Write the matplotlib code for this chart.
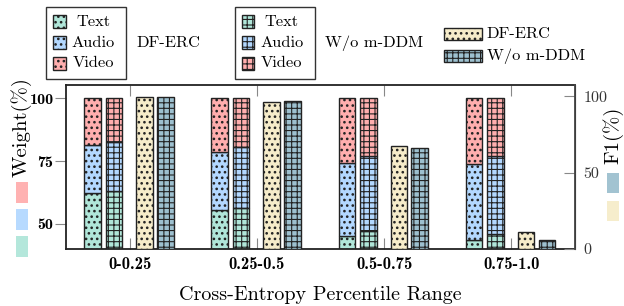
import matplotlib
matplotlib.use('Agg')
import matplotlib.pyplot as plt
from matplotlib.patches import Rectangle
import numpy as np

plt.rcParams['font.family'] = 'serif'
plt.rcParams['font.serif'] = ['cmr10']
plt.rcParams['axes.formatter.use_mathtext'] = True
plt.rcParams['hatch.linewidth'] = 0.8

categories = ['0-0.25', '0.25-0.5', '0.5-0.75', '0.75-1.0']
dferc_text = [62.3, 55.4, 45.0, 43.4]
dferc_audio = [19.0, 23.2, 29.4, 30.4]
dferc_video = [18.7, 21.4, 25.6, 26.2]
wo_text = [62.9, 56.3, 47.3, 45.8]
wo_audio = [19.9, 24.4, 29.9, 31.3]
wo_video = [17.2, 19.3, 22.8, 22.9]
f1_dferc = [99.7, 96.1, 67.4, 11.2]
f1_wo = [99.7, 97.1, 66.5, 5.9]
modalities = ['Text', 'Audio', 'Video']

c_text = '#b0e6d9'
c_audio = '#b3d8ff'
c_video = '#ffaeae'
c_dferc = '#f6ecca'
c_wo = '#9dc0cf'
mod_colors = [c_text, c_audio, c_video]

W, H = 624, 306
fig = plt.figure(figsize=(W / 100, H / 100), dpi=100)

def fx(x):
    return x / W

def fy(y):
    return 1 - y / H

def thick_dots(artists):
    for a in artists:
        try:
            a.set_hatch_linewidth(1.1)
        except AttributeError:
            pass

ax = fig.add_axes([fx(66), fy(249), fx(575) - fx(66), fy(85) - fy(249)])
ax2 = ax.twinx()

x = np.arange(len(categories))
bw = 0.13
off = [-0.293, -0.124, 0.116, 0.28]
dot = '...'
grid = '+++'

bottom = np.zeros(4)
for vals, col in zip([dferc_text, dferc_audio, dferc_video], mod_colors):
    b = ax.bar(x + off[0], vals, bw, bottom=bottom, color=col, edgecolor='#222222',
               linewidth=1.0, hatch=dot)
    thick_dots(b)
    bottom = bottom + np.array(vals)
bottom = np.zeros(4)
for vals, col in zip([wo_text, wo_audio, wo_video], mod_colors):
    ax.bar(x + off[1], vals, bw, bottom=bottom, color=col, edgecolor='#222222',
           linewidth=1.0, hatch=grid)
    bottom = bottom + np.array(vals)

b = ax2.bar(x + off[2], f1_dferc, bw, color=c_dferc, edgecolor='#222222', linewidth=1.0, hatch=dot)
thick_dots(b)
ax2.bar(x + off[3], f1_wo, bw, color=c_wo, edgecolor='#222222', linewidth=1.0, hatch=grid)

ax.set_xlim(-0.5, 3.5)
ax.set_ylim(40, 105.3)
ax2.set_ylim(0, 107.5)

ax.set_yticks([50, 75, 100])
ax.set_yticklabels(['50', '75', '100'], fontfamily='cmb10', fontsize=11.5)
ax.tick_params(axis='y', direction='out', length=8, color='#888888', pad=1)
ax.set_xticks(x)
ax.set_xticklabels(categories, fontfamily='cmb10', fontsize=12)
ax.tick_params(axis='x', direction='in', length=8, color='#888888', top=True, pad=6)

ax2.set_yticks([0, 50, 100])
ax2.set_yticklabels(['0', '50', '100'], fontsize=11.5, color='#333333')
ax2.tick_params(axis='y', direction='in', length=8, color='#888888', pad=6)

for s in ['left', 'bottom', 'top']:
    ax.spines[s].set_linewidth(1.3)
    ax.spines[s].set_color('#222222')
for s in ['left', 'bottom', 'top', 'right']:
    ax2.spines[s].set_visible(s == 'right')
ax2.spines['right'].set_linewidth(1.3)
ax2.spines['right'].set_color('#444444')

fig.text(fx(320), fy(295), 'Cross-Entropy Percentile Range', fontsize=14.5,
         ha='center', va='center')
fig.text(fx(21), fy(127), 'Weight(%)', fontsize=15, rotation=90, ha='center', va='center')
fig.text(fx(613), fy(135), 'F1(%)', fontsize=15, rotation=90, ha='center', va='center')

def frect(x0, y0, x1, y1, **kw):
    r = Rectangle((fx(x0), fy(y1)), fx(x1) - fx(x0), fy(y0) - fy(y1),
                  transform=fig.transFigure, **kw)
    fig.add_artist(r)
    return r

# colour keys beside the axis labels
for (y0, y1), col in zip([(182, 202.7), (209, 229.7), (236, 256.7)], [c_video, c_audio, c_text]):
    frect(15.7, y0, 27.7, y1, facecolor=col, edgecolor='none', alpha=0.95)
for (y0, y1), col in zip([(173, 193), (200.7, 221.3)], [c_wo, c_dferc]):
    frect(606.7, y0, 619, y1, facecolor=col, edgecolor='none', alpha=0.95)

# legend boxes for modalities
rows = [21.7, 42.7, 63.3]
for bx, hatch, name in [(46, dot, 'DF-ERC'), (234.7, grid, 'W/o m-DDM')]:
    frect(bx, 6.7, bx + 80, 79, facecolor='white', edgecolor='#333333', linewidth=1.0)
    for yc, col, lab in zip(rows, mod_colors, modalities):
        r = frect(bx + 7, yc - 6.3, bx + 19.5, yc + 6.3, facecolor=col, edgecolor='#222222',
                  linewidth=1.0, hatch=hatch)
        if hatch == dot:
            thick_dots([r])
        fig.text(fx(bx + 47), fy(yc), lab, fontsize=11.8, ha='center', va='center')
    fig.text(fx(bx + 90.5), fy(43), name, fontsize=11.8, ha='left', va='center')

# legend for F1 bars
for yc, col, hatch, lab in [(33.8, c_dferc, dot, 'DF-ERC'), (56, c_wo, grid, 'W/o m-DDM')]:
    r = frect(444.3, yc - 5.8, 481.7, yc + 5.8, facecolor=col, edgecolor='#222222',
              linewidth=1.0, hatch=hatch)
    if hatch == dot:
        thick_dots([r])
    fig.text(fx(486.7), fy(yc), lab, fontsize=11.8, ha='left', va='center')

fig.savefig('out.png', dpi=100)
